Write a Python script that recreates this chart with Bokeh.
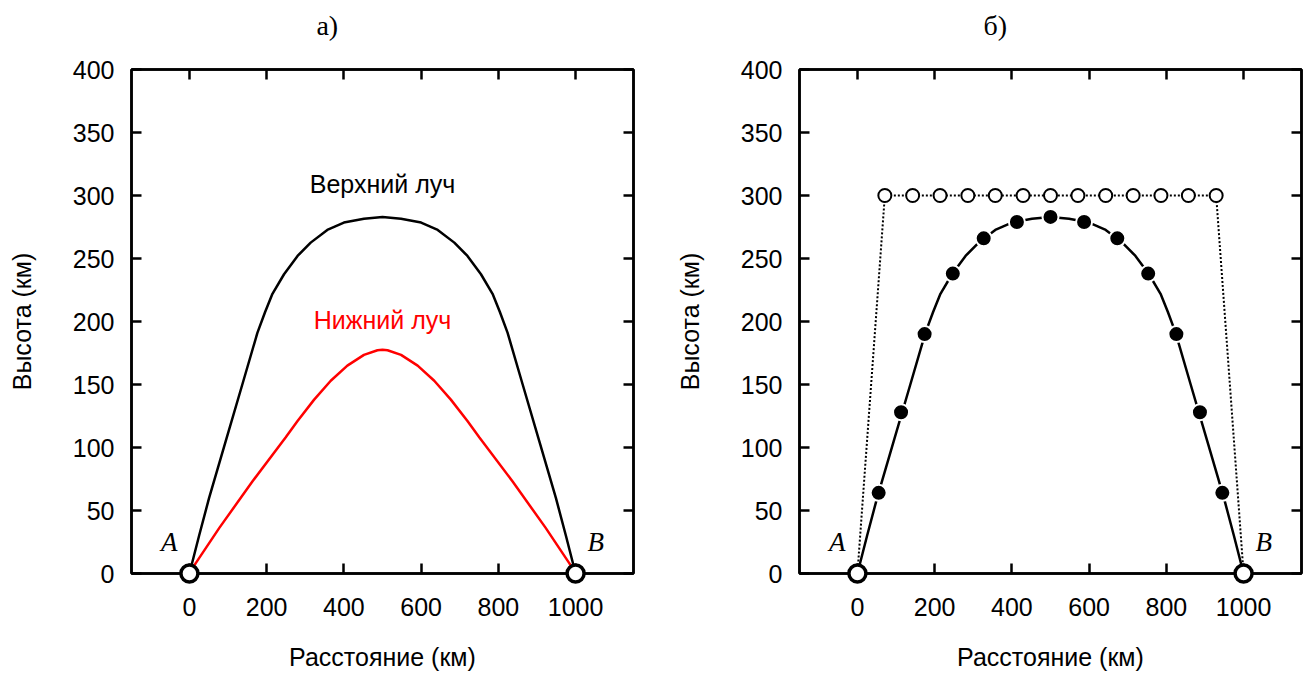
from bokeh.plotting import figure
from bokeh.layouts import row
from bokeh.models import LinearAxis, FixedTicker, Range1d, Label
from bokeh.core.properties import value
from bokeh.embed import file_html
from bokeh.resources import INLINE

# ---------------- data ----------------
x_ticks = [0, 200, 400, 600, 800, 1000]
y_ticks = [0, 50, 100, 150, 200, 250, 300, 350, 400]

# panel a) upper ray (black)
upper_x = [0, 25, 51, 94, 137, 176, 196, 215, 245, 280, 314, 357, 400, 452,
           500,
           548, 600, 643, 686, 720, 755, 785, 804, 824, 863, 906, 949, 975, 1000]
upper_y = [0, 30, 60, 105, 150, 191, 207.5, 222, 237.5, 252, 262.6, 272.7, 278.5, 281.6,
           283,
           281.6, 278.5, 272.7, 262.6, 252, 237.5, 222, 207.5, 191, 150, 105, 60, 30, 0]

# panel a) lower ray (red)
lower_x = [0, 16, 77, 163, 249, 280, 323, 366, 409, 452, 487,
           500,
           513, 548, 591, 634, 677, 720, 751, 837, 923, 984, 1000]
lower_y = [0, 8, 36, 73, 108, 121, 138, 153, 165, 173.5, 177.2,
           177.5,
           177.2, 173.5, 165, 153, 138, 121, 108, 73, 36, 8, 0]

# panel b) points on the real ray (filled)
dot_x = [55, 113, 174, 247, 327, 413, 500, 587, 673, 753, 826, 887, 945]
dot_y = [64, 128, 190, 238, 266, 279, 283, 279, 266, 238, 190, 128, 64]

# panel b) virtual reflection path (open circles)
virt_x = [71, 143, 214, 286, 357, 429, 500, 571, 643, 714, 786, 857, 929]
virt_y = [300, 300, 300, 300, 300, 300, 300, 300, 300, 300, 300, 300, 300]

# end points
end_x = [0, 1000]
end_y = [0, 0]
end_names = ["A", "B"]
end_label_x = [-52, 1052]
end_label_y = [25, 25]

titles = ["а)", "б)"]
title_pos = (357, 435)
x_label = "Расстояние (км)"
y_label = "Высота (км)"
upper_name = "Верхний луч"
lower_name = "Нижний луч"

SANS = "Liberation Sans"
SERIF = "Liberation Serif"


def style_axis(ax, ticks, labels=True):
    ax.ticker = FixedTicker(ticks=ticks)
    ax.axis_line_color = "black"
    ax.axis_line_width = 2.5
    ax.major_tick_line_color = "black"
    ax.major_tick_line_width = 2.5
    ax.major_tick_in = 10
    ax.major_tick_out = 0
    ax.minor_tick_line_color = None
    ax.major_label_text_font = SANS
    ax.major_label_text_font_size = "25px"
    ax.major_label_text_color = "black"
    ax.axis_label_text_font = SANS
    ax.axis_label_text_font_size = "25px"
    ax.axis_label_text_font_style = "normal"
    ax.axis_label_text_color = "black"
    if not labels:
        ax.major_label_overrides = {t: "" for t in ticks}
        ax.major_label_standoff = 0


def make_panel(title, border_left, width):
    p = figure(width=width, height=675, frame_width=502, frame_height=504,
               min_border_left=border_left, min_border_right=width - border_left - 502,
               min_border_top=69, min_border_bottom=102,
               x_range=Range1d(-150, 1150), y_range=Range1d(0, 400),
               output_backend="svg", toolbar_location=None,
               x_axis_location=None, y_axis_location=None)
    p.grid.visible = False
    p.outline_line_color = "black"
    p.outline_line_width = 2.5
    p.background_fill_color = "white"
    p.border_fill_color = "white"

    xb = LinearAxis(axis_label=x_label)
    style_axis(xb, x_ticks)
    xb.major_label_standoff = 24
    xb.axis_label_standoff = 24
    p.add_layout(xb, "below")

    yl = LinearAxis(axis_label=y_label)
    style_axis(yl, y_ticks)
    yl.major_label_standoff = 17
    yl.axis_label_standoff = 34
    p.add_layout(yl, "left")

    xt = LinearAxis()
    style_axis(xt, x_ticks, labels=False)
    p.add_layout(xt, "above")

    yr = LinearAxis()
    style_axis(yr, y_ticks, labels=False)
    p.add_layout(yr, "right")

    # panel caption (drawn at overlay level so it is not clipped to the frame)
    p.text(x=[title_pos[0]], y=[title_pos[1]], text=[title],
           text_font=value(SERIF), text_font_size=value("28px"),
           text_align="center", text_baseline="middle", text_color="black",
           level="overlay")
    return p


def add_endpoints(p):
    p.scatter(end_x, end_y, marker="circle", size=17, fill_color="white",
              line_color="black", line_width=3.5, level="overlay")
    for nx, ny, nm in zip(end_label_x, end_label_y, end_names):
        p.add_layout(Label(x=nx, y=ny, text=nm, text_font=SERIF,
                           text_font_style="italic", text_font_size="27px",
                           text_align="center", text_baseline="middle",
                           text_color="black"))


# ---------------- panel a ----------------
pa = make_panel(titles[0], 131, 670)
pa.line(upper_x, upper_y, line_color="black", line_width=2.5)
pa.line(lower_x, lower_y, line_color="#ff0000", line_width=2.5)
pa.add_layout(Label(x=500, y=309, text=upper_name, text_font=SANS,
                    text_font_size="25px", text_align="center",
                    text_baseline="middle", text_color="black"))
pa.add_layout(Label(x=500, y=201, text=lower_name, text_font=SANS,
                    text_font_size="25px", text_align="center",
                    text_baseline="middle", text_color="#ff0000"))
add_endpoints(pa)

# ---------------- panel b ----------------
pb = make_panel(titles[1], 129, 645)
pb.line([end_x[0]] + virt_x + [end_x[1]], [end_y[0]] + virt_y + [end_y[1]],
        line_color="black", line_width=2, line_dash="2 2")
pb.scatter(virt_x, virt_y, marker="circle", size=13, fill_color="white",
           line_color="black", line_width=2)
pb.line(upper_x, upper_y, line_color="black", line_width=2.5)
pb.scatter(dot_x, dot_y, marker="circle", size=16, fill_color="black",
           line_color="white", line_width=2)
add_endpoints(pb)

layout = row(pa, pb)
open("out.html", "w").write(file_html(layout, INLINE))
